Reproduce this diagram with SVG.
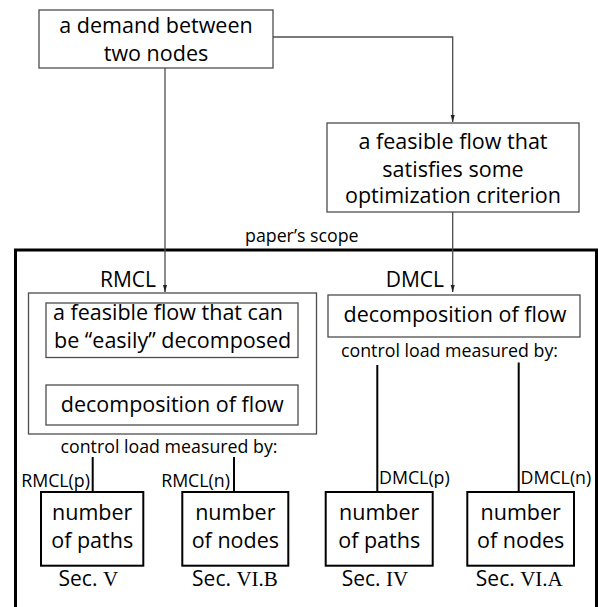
<svg xmlns="http://www.w3.org/2000/svg" width="598" height="607" viewBox="0 0 598 607">
<style>
.box{fill:#fff;stroke:#4d4d4d;stroke-width:1.3}
.nbox{fill:#fff;stroke:#000;stroke-width:2}
.conn{fill:none;stroke:#4d4d4d;stroke-width:1.3}
.bl{fill:none;stroke:#000;stroke-width:2}
text{font-family:"Open Sans","Liberation Sans",sans-serif;fill:#000}
.t{font-size:21.5px;text-anchor:middle}
.s{font-size:17.8px}
.m{font-size:21px}
.n{font-size:21.5px;text-anchor:middle}
.sec{font-size:21px;text-anchor:middle}
.ser{font-family:"Liberation Serif","Times New Roman",serif}
</style>
<defs>
<marker id="ah" markerUnits="userSpaceOnUse" markerWidth="8" markerHeight="15" refX="14" refY="4" orient="auto" viewBox="0 0 15 8">
<path d="M0,0 L15,4 L0,8 Z" fill="#222"/>
</marker>
</defs>
<rect id="scope" x="15.5" y="250" width="581" height="380" fill="none" stroke="#000" stroke-width="3"/>
<text class="s" x="245" y="242">paper’s scope</text>
<g id="connectors">
<path class="conn" d="M273,37 H452.7 V122" marker-end="url(#ah)"/>
<path class="conn" d="M165,68 V292" marker-end="url(#ah)"/>
<path class="conn" d="M452.7,212 V292" marker-end="url(#ah)"/>
<path class="conn" d="M165,357.5 V385" marker-end="url(#ah)"/>
<line class="bl" x1="92.7" y1="457" x2="92.7" y2="492"/>
<line class="bl" x1="234" y1="457" x2="234" y2="492"/>
<line class="bl" x1="377.3" y1="365" x2="377.3" y2="492"/>
<line class="bl" x1="518.7" y1="362.5" x2="518.7" y2="492"/>
<text class="s" x="90" y="486.5" text-anchor="end">RMCL(p)</text>
<text class="s" x="230" y="486.5" text-anchor="end">RMCL(n)</text>
<text class="s" x="379" y="484">DMCL(p)</text>
<text class="s" x="520.5" y="484">DMCL(n)</text>
</g>
<g id="demand">
<rect class="box" x="39" y="10" width="234" height="58"/>
<text class="t" x="156" y="32.5">a demand between</text>
<text class="t" x="156" y="61">two nodes</text>
</g>
<g id="optflow">
<rect class="box" x="327" y="123" width="252" height="89"/>
<text class="t" x="453" y="149">a feasible flow that</text>
<text class="t" x="453" y="176.5">satisfies some</text>
<text class="t" x="453" y="203">optimization criterion</text>
</g>
<g id="rmcl">
<text class="m" x="100" y="286.5">RMCL</text>
<rect class="box" x="28.5" y="293" width="288" height="141"/>
</g>
<g id="easyflow">
<rect class="box" x="46" y="303" width="252" height="54.5"/>
<text class="t" x="53" y="320" style="text-anchor:start">a feasible flow that can</text>
<text class="t" x="54" y="348" style="text-anchor:start">be “easily” decomposed</text>
</g>
<g id="rmcl-decomp">
<rect class="box" x="46" y="385" width="252" height="40"/>
<text class="t" x="172.3" y="411.5">decomposition of flow</text>
</g>
<text class="s" x="169" y="453.3" text-anchor="middle">control load measured by:</text>
<g id="dmcl-decomp">
<text class="m" x="385.7" y="286.5">DMCL</text>
<rect class="box" x="328" y="295" width="252" height="42"/>
<text class="t" x="455" y="321.5">decomposition of flow</text>
</g>
<text class="s" x="449.5" y="356.5" text-anchor="middle">control load measured by:</text>
<g id="n1">
<rect class="nbox" x="41" y="492" width="102.3" height="73.7"/>
<text class="n" x="92.2" y="520">number</text>
<text class="n" x="92.2" y="548">of paths</text>
<text class="sec" x="88.3" y="585.5">Sec. <tspan class="ser"> V</tspan></text>
</g>
<g id="n2">
<rect class="nbox" x="182.3" y="492" width="106" height="73.7"/>
<text class="n" x="235.3" y="520">number</text>
<text class="n" x="235.3" y="548">of nodes</text>
<text class="sec" x="235" y="585.5">Sec. <tspan class="ser">VI.B</tspan></text>
</g>
<g id="n3">
<rect class="nbox" x="325.7" y="492" width="107" height="73.7"/>
<text class="n" x="379.2" y="520">number</text>
<text class="n" x="379.2" y="548">of paths</text>
<text class="sec" x="375" y="585.5">Sec. <tspan class="ser"> IV</tspan></text>
</g>
<g id="n4">
<rect class="nbox" x="467.3" y="492" width="106.7" height="73.7"/>
<text class="n" x="520.7" y="520">number</text>
<text class="n" x="520.7" y="548">of nodes</text>
<text class="sec" x="519.3" y="585.5">Sec. <tspan class="ser">VI.A</tspan></text>
</g>
</svg>
